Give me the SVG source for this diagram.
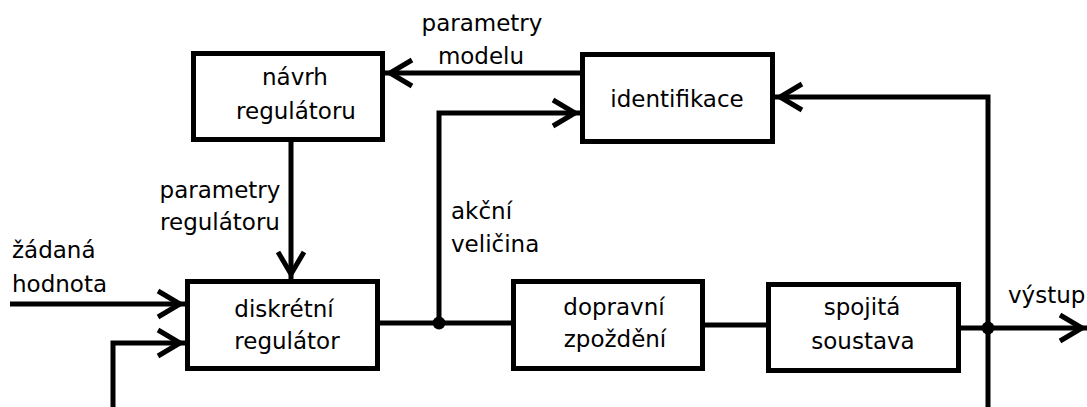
<svg xmlns="http://www.w3.org/2000/svg" width="1087" height="407" viewBox="0 0 1087 407">
<style>
  .box { fill: #fff; stroke: #000; stroke-width: 5; }
  .t { font-family: "DejaVu Sans", "Liberation Sans", sans-serif; font-size: 23px; fill: #000; }
  .c { text-anchor: middle; }
  .ln { fill: none; stroke: #000; stroke-width: 5; }
</style>
<defs>
  <marker id="arr" markerUnits="userSpaceOnUse" orient="auto" refX="0" refY="0" markerWidth="40" markerHeight="40" viewBox="-40 -20 40 40" overflow="visible">
    <path d="M-27,-13 L-5,0 L-27,13" fill="none" stroke="#000" stroke-width="5"/>
  </marker>
</defs>
<rect width="1087" height="407" fill="#fff"/>
<g id="connectors">
  <path class="ln" d="M10 304 H185" marker-end="url(#arr)"/>
  <path class="ln" d="M113 407 V343 H185" marker-end="url(#arr)"/>
  <path class="ln" d="M291 142 V279" marker-end="url(#arr)"/>
  <path class="ln" d="M380 323 H511"/>
  <path class="ln" d="M439 323 V113 H580" marker-end="url(#arr)"/>
  <path class="ln" d="M705 325 H766"/>
  <path class="ln" d="M961 328 H1087" marker-end="url(#arr)"/>
  <path class="ln" d="M988 407 V97 H775" marker-end="url(#arr)"/>
  <path class="ln" d="M580 73 H385" marker-end="url(#arr)"/>
  <circle cx="439" cy="323" r="6.5" fill="#000"/>
  <circle cx="988" cy="328" r="6.5" fill="#000"/>
</g>
<g id="navrh">
  <rect class="box" x="193.5" y="53.5" width="189" height="86"/>
  <text class="t c" x="295" y="85">návrh</text>
  <text class="t c" x="296" y="119">regulátoru</text>
</g>
<g id="identifikace">
  <rect class="box" x="582.5" y="54.5" width="190" height="87"/>
  <text class="t c" x="677" y="107">identifikace</text>
</g>
<g id="diskretni">
  <rect class="box" x="187.5" y="281.5" width="190" height="87"/>
  <text class="t c" x="284" y="317">diskrétní</text>
  <text class="t c" x="287" y="349">regulátor</text>
</g>
<g id="dopravni">
  <rect class="box" x="513.5" y="281.5" width="189" height="87"/>
  <text class="t c" x="614" y="315">dopravní</text>
  <text class="t c" x="615" y="347">zpoždění</text>
</g>
<g id="spojita">
  <rect class="box" x="768.5" y="284.5" width="190" height="86"/>
  <text class="t c" x="862" y="315">spojitá</text>
  <text class="t c" x="863" y="349">soustava</text>
</g>
<g id="labels">
  <text class="t c" x="482" y="31">parametry</text>
  <text class="t c" x="481" y="64">modelu</text>
  <text class="t c" x="220" y="198">parametry</text>
  <text class="t c" x="220" y="230">regulátoru</text>
  <text class="t" x="451" y="219">akční</text>
  <text class="t" x="451" y="252">veličina</text>
  <text class="t" x="12" y="258">žádaná</text>
  <text class="t" x="12" y="292">hodnota</text>
  <text class="t" x="1008" y="303">výstup</text>
</g>
</svg>
